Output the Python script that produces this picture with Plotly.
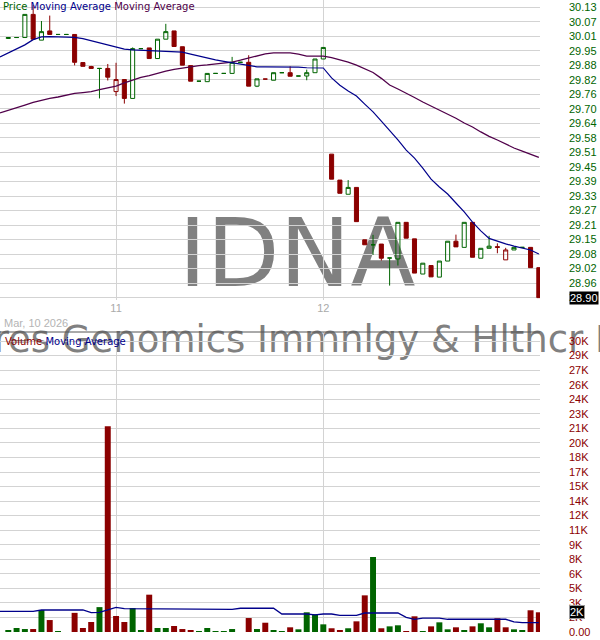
import plotly.graph_objects as go

# ---------------- data ----------------
bar_index = list(range(65))
opens = [29.998, 30.002, 30.002, 30.100, 29.991, 30.030, 30.015, 30.015, 30.015, 29.896,
         29.879, 29.871, 29.871, 29.773, 29.824, 29.744, 29.955, 29.958, 29.913, 29.995,
         30.030, 29.963, 29.883, 29.817, 29.815, 29.850, 29.850, 29.850, 29.897, 29.897,
         29.796, 29.826, 29.821, 29.853, 29.853, 29.839, 29.839, 29.853, 29.911, 29.508,
         29.398, 29.338, 29.367, 29.145, 29.124, 29.127, 29.068, 29.064, 29.219, 29.149,
         29.000, 29.036, 28.987, 29.055, 29.139, 29.113, 29.219, 29.067, 29.109, 29.116,
         29.060, 29.102, 29.113, 29.113, 29.027]
highs = [30.002, 30.002, 30.100, 30.140, 30.072, 30.095, 30.015, 30.015, 30.015, 29.896,
         29.882, 29.871, 29.890, 29.895, 29.824, 29.960, 29.955, 29.958, 29.995, 30.060,
         30.030, 29.963, 29.883, 29.817, 29.850, 29.850, 29.850, 29.920, 29.897, 29.927,
         29.827, 29.826, 29.853, 29.853, 29.880, 29.839, 29.866, 29.911, 29.960, 29.508,
         29.398, 29.398, 29.367, 29.145, 29.166, 29.127, 29.068, 29.219, 29.219, 29.149,
         29.046, 29.036, 29.055, 29.139, 29.167, 29.219, 29.219, 29.109, 29.162, 29.130,
         29.111, 29.113, 29.113, 29.113, 29.027]
lows = [29.998, 30.002, 30.002, 29.995, 29.991, 30.015, 30.015, 30.015, 29.884, 29.880,
        29.871, 29.744, 29.820, 29.754, 29.722, 29.744, 29.955, 29.913, 29.911, 29.995,
        29.964, 29.885, 29.817, 29.817, 29.815, 29.850, 29.850, 29.850, 29.897, 29.796,
        29.792, 29.826, 29.821, 29.853, 29.838, 29.839, 29.821, 29.853, 29.911, 29.402,
        29.342, 29.338, 29.222, 29.124, 29.081, 29.057, 28.951, 29.036, 29.152, 29.004,
        29.000, 28.988, 28.987, 29.055, 29.115, 29.113, 29.071, 29.067, 29.109, 29.088,
        29.060, 29.102, 29.113, 29.027, 28.900]
closes = [30.002, 30.002, 30.100, 29.995, 30.027, 30.015, 30.015, 30.015, 29.897, 29.880,
          29.871, 29.871, 29.834, 29.824, 29.744, 29.955, 29.955, 29.913, 29.995, 30.027,
          29.964, 29.885, 29.817, 29.817, 29.850, 29.850, 29.850, 29.897, 29.897, 29.796,
          29.827, 29.826, 29.853, 29.853, 29.838, 29.839, 29.853, 29.911, 29.960, 29.402,
          29.342, 29.367, 29.222, 29.124, 29.124, 29.067, 29.068, 29.219, 29.152, 29.004,
          29.046, 28.988, 29.055, 29.139, 29.115, 29.219, 29.071, 29.109, 29.118, 29.113,
          29.102, 29.113, 29.113, 29.027, 28.900]
volumes = [200, 420, 310, 310, 2300, 1250, 100, 0, 2000, 420,
           1045, 2600, 21500, 1670, 1045, 2500, 200, 3900, 420, 420,
           630, 310, 200, 100, 420, 100, 100, 310, 0, 1460,
           310, 970, 200, 100, 490, 280, 2060, 1850, 800, 390,
           180, 390, 1115, 3830, 7840, 390, 590, 700, 100, 1640,
           100, 590, 1010, 280, 490, 180, 590, 910, 490, 1430,
           490, 280, 180, 2270, 2060]

ma_index = list(range(-1, 65))
price_ma_fast = [29.920, 29.938, 29.953, 29.971, 29.993, 30.005, 30.006, 30.006, 30.006, 30.003,
                 29.997, 29.988, 29.980, 29.969, 29.959, 29.953, 29.950, 29.948, 29.946, 29.945,
                 29.944, 29.943, 29.940, 29.932, 29.923, 29.915, 29.907, 29.901, 29.895, 29.887,
                 29.881, 29.878, 29.878, 29.878, 29.879, 29.880, 29.877, 29.874, 29.874, 29.873,
                 29.831, 29.800, 29.775, 29.754, 29.720, 29.687, 29.648, 29.610, 29.568, 29.525,
                 29.491, 29.449, 29.402, 29.369, 29.339, 29.301, 29.263, 29.220, 29.183, 29.151,
                 29.138, 29.128, 29.118, 29.110, 29.102, 29.085]
price_ma_slow = [29.683, 29.695, 29.706, 29.716, 29.727, 29.737, 29.744, 29.750, 29.758, 29.765,
                 29.769, 29.773, 29.781, 29.789, 29.796, 29.810, 29.822, 29.833, 29.841, 29.852,
                 29.860, 29.867, 29.873, 29.877, 29.883, 29.886, 29.890, 29.893, 29.898, 29.906,
                 29.916, 29.925, 29.933, 29.937, 29.937, 29.937, 29.932, 29.923, 29.923, 29.923,
                 29.917, 29.909, 29.898, 29.885, 29.871, 29.854, 29.829, 29.801, 29.784, 29.767,
                 29.748, 29.729, 29.712, 29.695, 29.678, 29.660, 29.640, 29.623, 29.602, 29.583,
                 29.568, 29.551, 29.534, 29.521, 29.508, 29.494]
volume_ma = [2160, 2160, 2160, 2160, 2160, 2300, 2300, 2300, 2300, 2300,
             2300, 2020, 2050, 2300, 2580, 2440, 2440, 2440, 2440, 2440,
             2440, 2440, 2440, 2370, 2370, 2370, 2370, 2370, 2370, 2480,
             2480, 2480, 2480, 2480, 1880, 1880, 1880, 1880, 1800, 1880,
             1880, 1745, 1745, 1745, 1985, 1985, 1985, 1985, 1985, 1535,
             1330, 1460, 1460, 1460, 1330, 1330, 1330, 1330, 1330, 1330,
             1330, 1330, 1050, 970, 970, 970]

price_tick_labels = ["28.90", "28.96", "29.02", "29.08", "29.15", "29.21", "29.27", "29.33",
                     "29.39", "29.45", "29.51", "29.58", "29.64", "29.70", "29.76", "29.82",
                     "29.88", "29.95", "30.01", "30.07", "30.13"]
price_tick_step = 0.0615
volume_tick_labels = ["0.00", "2K", "3K", "5K", "6K", "8K", "9K", "11K", "12K", "14K", "15K",
                      "17K", "18K", "20K", "21K", "23K", "24K", "26K", "27K", "29K", "30K"]
volume_tick_step = 1520
day_ticks = [13, 38]
day_labels = ["11", "12"]
symbol = "IDNA"
fund_name = "iShares Genomics Immnlgy & Hlthcr ETF"
first_date = "Mar, 10 2026"

# ---------------- styling ----------------
GREEN = "#006400"
RED = "#8b0000"
NAVY = "#00008b"
PURPLE = "#50004a"
GRID = "#d3d3d3"
W, H = 600, 640
ML, MR, MT, MB = 0, 60, 0, 8
PW, PH = W - ML - MR, H - MT - MB


def px_x(px):
    return px / PW


def px_y(py):
    return (PH - py) / PH


up = [True] + [closes[i] >= closes[i - 1] for i in range(1, len(closes))]

fig = go.Figure()


def subset(arr, flag):
    return [v if u == flag else None for v, u in zip(arr, up)]


for flag, col in ((True, GREEN), (False, RED)):
    fig.add_trace(go.Candlestick(
        x=bar_index, open=subset(opens, flag), high=subset(highs, flag),
        low=subset(lows, flag), close=subset(closes, flag),
        increasing=dict(line=dict(color=col, width=1), fillcolor="rgba(0,0,0,0)"),
        decreasing=dict(line=dict(color=col, width=1), fillcolor=col),
        whiskerwidth=0, xaxis="x", yaxis="y", showlegend=False, hoverinfo="skip"))

fig.add_trace(go.Scatter(x=ma_index, y=price_ma_slow, mode="lines",
                         line=dict(color=PURPLE, width=1.3), xaxis="x", yaxis="y",
                         showlegend=False, hoverinfo="skip"))
fig.add_trace(go.Scatter(x=ma_index, y=price_ma_fast, mode="lines",
                         line=dict(color=NAVY, width=1.2), xaxis="x", yaxis="y",
                         showlegend=False, hoverinfo="skip"))

fig.add_trace(go.Bar(x=bar_index, y=volumes, width=0.72,
                     marker=dict(color=[GREEN if u else RED for u in up], line=dict(width=0)),
                     xaxis="x2", yaxis="y2", showlegend=False, hoverinfo="skip"))
fig.add_trace(go.Scatter(x=ma_index, y=volume_ma, mode="lines",
                         line=dict(color=NAVY, width=1.3), xaxis="x2", yaxis="y2",
                         showlegend=False, hoverinfo="skip"))

x_range = [-1.0, 64.14]
price_range = [28.89, 30.161]
volume_range = [0, 31350]

axis_common = dict(showgrid=True, gridcolor=GRID, gridwidth=1, zeroline=False, ticks="",
                   showline=False)

fig.update_layout(
    width=W, height=H,
    margin=dict(l=ML, r=MR, t=MT, b=MB),
    paper_bgcolor="white", plot_bgcolor="white",
    showlegend=False,
    font=dict(family="Liberation Sans, Arial", size=11),
    xaxis=dict(domain=[0, 1], anchor="y", range=x_range, tickvals=day_ticks,
               ticktext=day_labels, tickfont=dict(color="#aaaaaa", size=11),
               rangeslider=dict(visible=False), **axis_common),
    xaxis2=dict(domain=[0, 1], anchor="y2", range=x_range, matches="x",
                tickvals=day_ticks, showticklabels=False, **axis_common),
    yaxis=dict(domain=[px_y(300), 1], range=price_range, side="right",
               tickvals=[28.90 + price_tick_step * k for k in range(len(price_tick_labels))],
               ticktext=price_tick_labels, tickfont=dict(color=GREEN, size=11),
               ticklabelstandoff=28, **axis_common),
    yaxis2=dict(domain=[0, px_y(332)], range=volume_range, side="right",
                tickvals=[volume_tick_step * k for k in range(len(volume_tick_labels))],
                ticktext=volume_tick_labels, tickfont=dict(color=RED, size=11),
                ticklabelstandoff=28, **axis_common),
)

shapes = [
    dict(type="rect", xref="paper", yref="paper", layer="below",
         x0=px_x(247), x1=px_x(347), y0=px_y(256), y1=px_y(236),
         line=dict(width=0), fillcolor="rgba(0,0,0,0)",
         label=dict(text=symbol, textposition="middle center",
                    font=dict(family="DejaVu Sans", size=95, color="#808080"))),
    dict(type="rect", xref="paper", yref="paper", layer="below",
         x0=px_x(238), x1=px_x(338), y0=px_y(346.5), y1=px_y(326.5),
         line=dict(width=0), fillcolor="rgba(0,0,0,0)",
         label=dict(text=fund_name, textposition="middle center",
                    font=dict(family="DejaVu Sans", size=37, color="#808080"))),
    dict(type="line", xref="paper", yref="paper", x0=0, x1=1,
         y0=px_y(332), y1=px_y(332), line=dict(color="#555555", width=1)),
]
fig.update_layout(shapes=shapes)

annotations = [
    dict(xref="paper", yref="paper", x=px_x(1), y=px_y(6.5), xanchor="left", yanchor="middle",
         showarrow=False, font=dict(family="DejaVu Sans", size=10),
         text=f'<span style="color:{GREEN}">Price</span> '
              f'<span style="color:{NAVY}">Moving Average</span> '
              f'<span style="color:{PURPLE}">Moving Average</span>'),
    dict(xref="paper", yref="paper", x=px_x(3), y=px_y(341), xanchor="left", yanchor="middle",
         showarrow=False, font=dict(family="DejaVu Sans", size=10),
         text=f'<span style="color:{RED}">Volume</span> '
              f'<span style="color:{NAVY}">Moving Average</span>'),
    dict(xref="paper", yref="paper", x=px_x(2), y=px_y(323), xanchor="left", yanchor="middle",
         showarrow=False, font=dict(family="Liberation Sans, Arial", size=11, color="#b4b4b4"),
         text=first_date),
    dict(xref="paper", yref="y", x=px_x(569), y=closes[-1], xanchor="left", yanchor="middle",
         showarrow=False, bgcolor="black", borderpad=0,
         font=dict(family="Liberation Sans, Arial", size=11, color="white"),
         text=f"{closes[-1]:.2f}"),
    dict(xref="paper", yref="y2", x=px_x(569), y=volumes[-1], xanchor="left", yanchor="middle",
         showarrow=False, bgcolor="black", bordercolor="#999999", borderwidth=1, borderpad=0,
         font=dict(family="Liberation Sans, Arial", size=11, color="white"),
         text=f"{round(volumes[-1] / 1000)}K"),
]
fig.update_layout(annotations=annotations)

fig.write_html("out.html", config={"displayModeBar": False},
               post_script="document.body.style.margin='0px';")
